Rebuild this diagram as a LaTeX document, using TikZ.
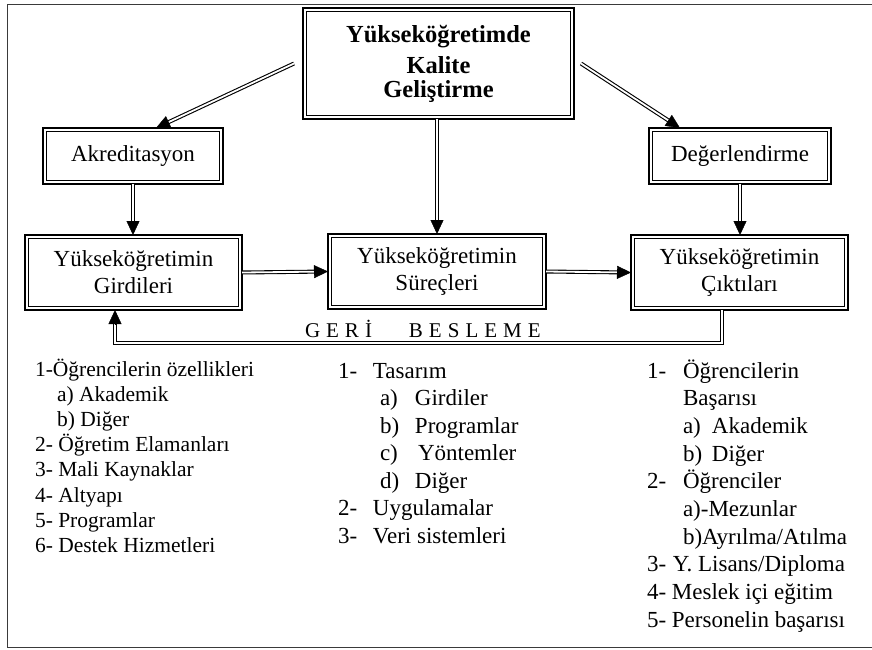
\documentclass[tikz,border=0pt]{standalone}
\usepackage{fontspec}
\setmainfont{Liberation Serif}
\usetikzlibrary{arrows.meta,calc}
\definecolor{framecol}{HTML}{3A3A3A}
\begin{document}
\begin{tikzpicture}[x=1pt,y=-1pt,
  box/.style={draw=black, line width=2.4pt, inner sep=0pt, outer sep=0pt, align=center, fill=white,
    font=\fontsize{23}{27}\selectfont,
    path picture={\draw[line width=1pt] ([shift={(3.4pt,-3.4pt)}]path picture bounding box.north west) rectangle ([shift={(-3.4pt,3.4pt)}]path picture bounding box.south east);}},
  shaft/.style={draw=black, double=white, double distance=1.8pt, line width=1.1pt, shorten >=11pt},
  tipa/.style={-{Triangle[length=14pt,width=13pt]}, line width=0.4pt},
  lst/.style={anchor=base west, inner sep=0pt, outer sep=0pt}
]
\useasboundingbox (0,0) rectangle (872,649);
\clip (0,0) rectangle (872,649);
\fill[white] (0,0) rectangle (872,649);
\draw[framecol, line width=1.4pt] (880,4.5) -- (7.5,4.5) -- (7.5,647.5) -- (880,647.5);

% boxes
\node[box, minimum width=271pt, minimum height=111pt, font=\bfseries\fontsize{24.5}{24}\selectfont] (top) at (438.5,63.5) {Yükseköğretimde\\[7pt]Kalite\\Geliştirme};
\node[box, minimum width=180pt, minimum height=56pt] (akr) at (133,156) {Akreditasyon};
\node[box, minimum width=182pt, minimum height=56pt] (deg) at (740,156) {Değerlendirme};
\node[box, minimum width=217pt, minimum height=75pt] (gird) at (133.5,272.5) {Yükseköğretimin\\Girdileri};
\node[box, minimum width=218pt, minimum height=75pt] (sur) at (437,271.5) {Yükseköğretimin\\Süreçleri};
\node[box, minimum width=217pt, minimum height=75pt] (cik) at (739.5,272.5) {Yükseköğretimin\\Çıktıları};

% connector points
\coordinate (tlS) at ($(top.west)+(-9,0)$);
\coordinate (tlE) at ($(akr.north)+(23,0)$);
\coordinate (trS) at ($(top.east)+(7,0)$);
\coordinate (trE) at ($(deg.north)+(-60,0)$);
\coordinate (tmS) at (sur.north |- top.south);
\coordinate (akE) at (akr.south |- gird.north);
\coordinate (dgE) at (deg.south |- cik.north);
\coordinate (fbR) at (722,343);
\coordinate (fbL) at (115,343);
\coordinate (fbS) at (fbR |- cik.south);
\coordinate (fbE) at (fbL |- gird.south);

% arrows
\draw[shaft] (tlS) -- (tlE);
\draw[tipa] ($(tlE)!14pt!(tlS)$) -- (tlE);
\draw[shaft] (trS) -- (trE);
\draw[tipa] ($(trE)!14pt!(trS)$) -- (trE);
\draw[shaft] (tmS) -- (sur.north);
\draw[tipa] ($(sur.north)!14pt!(tmS)$) -- (sur.north);
\draw[shaft] (akr.south) -- (akE);
\draw[tipa] ($(akE)!14pt!(akr.south)$) -- (akE);
\draw[shaft] (deg.south) -- (dgE);
\draw[tipa] ($(dgE)!14pt!(deg.south)$) -- (dgE);
\draw[shaft] (gird.east) -- (sur.west);
\draw[tipa] ($(sur.west)!14pt!(gird.east)$) -- (sur.west);
\draw[shaft] (sur.east) -- (cik.west);
\draw[tipa] ($(cik.west)!14pt!(sur.east)$) -- (cik.west);
\draw[shaft] (fbS) -- (fbR) -- (fbL) -- (fbE);
\draw[tipa] ($(fbE)!14pt!(fbL)$) -- (fbE);

\node[lst, font=\fontsize{21}{24}\selectfont] (geri) at (305,337.5) {G\kern6pt E\kern6pt R\kern6pt İ\kern37pt B\kern6pt E\kern6pt S\kern6pt L\kern6pt E\kern6pt M\kern6pt E};

% lists
\node[lst] (listL) at (35,376) {\fontsize{21.5}{25.2}\selectfont\begin{tabular}[t]{@{}l@{}}
1-Öğrencilerin özellikleri\\
\hspace*{22pt}a) Akademik\\
\hspace*{22pt}b) Diğer\\
2- Öğretim Elamanları\\
3- Mali Kaynaklar\\
4- Altyapı\\
5- Programlar\\
6- Destek Hizmetleri
\end{tabular}};

\node[lst] (listM) at (338,378) {\fontsize{23}{27.5}\selectfont\begin{tabular}[t]{@{}l@{}}
\makebox[35pt][l]{1-}Tasarım\\
\hspace*{42pt}\makebox[35pt][l]{a)}Girdiler\\
\hspace*{42pt}\makebox[35pt][l]{b)}Programlar\\
\hspace*{42pt}\makebox[38pt][l]{c)}Yöntemler\\
\hspace*{42pt}\makebox[35pt][l]{d)}Diğer\\
\makebox[35pt][l]{2-}Uygulamalar\\
\makebox[35pt][l]{3-}Veri sistemleri
\end{tabular}};

\node[lst] (listR) at (647,378) {\fontsize{23}{27.7}\selectfont\begin{tabular}[t]{@{}l@{}}
\makebox[36pt][l]{1-}Öğrencilerin\\
\hspace*{36pt}Başarısı\\
\hspace*{36pt}\makebox[29pt][l]{a)}Akademik\\
\hspace*{36pt}\makebox[29pt][l]{b)}Diğer\\
\makebox[36pt][l]{2-}Öğrenciler\\
\hspace*{36pt}a)-Mezunlar\\
\hspace*{36pt}b)Ayrılma/Atılma\\
\makebox[26pt][l]{3-}Y. Lisans/Diploma\\
4- Meslek içi eğitim\\
5- Personelin başarısı
\end{tabular}};
\end{tikzpicture}
\end{document}
